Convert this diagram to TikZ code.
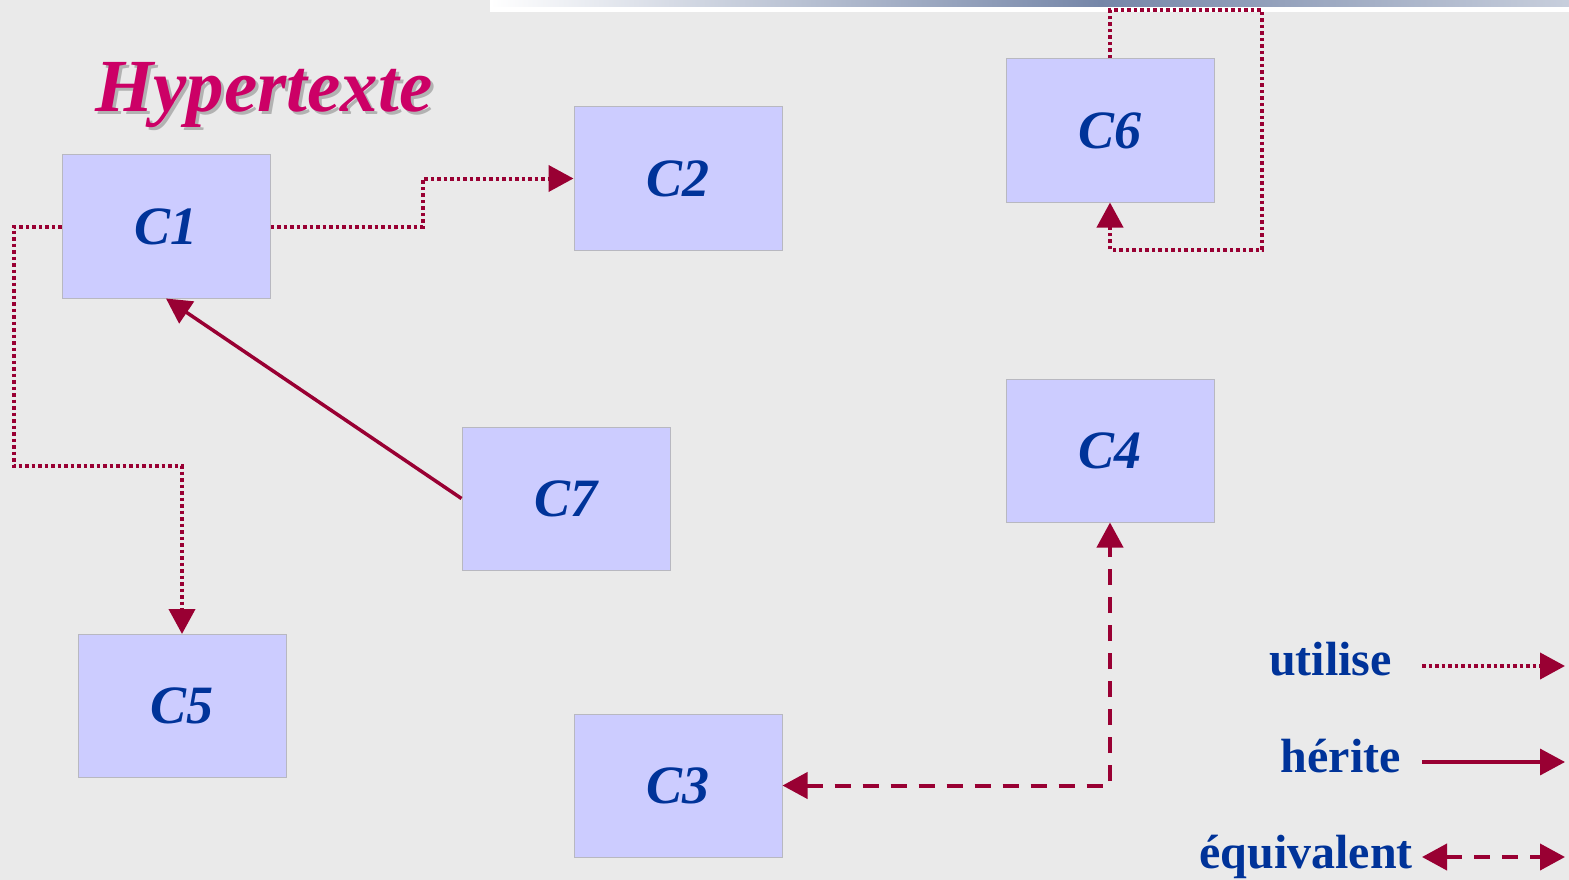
\documentclass[tikz,border=0pt]{standalone}
\usepackage{fontspec}
\setmainfont{Liberation Serif}
\usetikzlibrary{arrows.meta}

\definecolor{bgGray}{HTML}{EAEAEA}
\definecolor{boxFill}{HTML}{CCCCFF}
\definecolor{boxLine}{HTML}{B8B8C0}
\definecolor{textBlue}{HTML}{003399}
\definecolor{arrowRed}{HTML}{990033}
\definecolor{titlePink}{HTML}{CC0066}
\definecolor{barBlue}{HTML}{7586A8}

\begin{document}
\begin{tikzpicture}[
        x=1pt, y=-1pt,
        classBox/.style={
          rectangle,
          draw=boxLine,
          line width=1pt,
          fill=boxFill,
          minimum width=208pt,
          minimum height=143pt,
          inner sep=0pt,
          text=textBlue,
          font=\fontsize{54}{58}\selectfont\bfseries\itshape
        },
        titleText/.style={
          inner sep=0pt,
          anchor=base west,
          font=\fontsize{75}{78}\selectfont\bfseries\itshape
        },
        legendText/.style={
          text=textBlue,
          inner sep=0pt,
          anchor=base east,
          font=\fontsize{48}{50}\selectfont\bfseries
        },
        uses/.style={-{Triangle[length=25pt, width=26pt]}, arrowRed, line width=4pt, dash pattern=on 3.5pt off 3pt},
        inherits/.style={-{Triangle[length=25pt, width=26pt]}, arrowRed, line width=3.5pt},
        equiv/.style={{Triangle[length=25pt, width=26pt]}-{Triangle[length=25pt, width=26pt]}, arrowRed, line width=4pt, dash pattern=on 16pt off 12pt}
    ]

    % Background and top bar
    \fill[bgGray] (0,0) rectangle (1569,880);
    \useasboundingbox (0,0) rectangle (1569,880);
    \fill[white] (490,0) rectangle (1569,12);
    \shade[left color=white, right color=barBlue] (490,0) rectangle (1100,7);
    \shade[left color=barBlue, right color=barBlue!40] (1100,0) rectangle (1569,7);

    % Title
    \node[titleText, text=black!30] (titleShadow) at (98,115) {Hypertexte};
    \node[titleText, text=titlePink] (title) at (95,112) {Hypertexte};

    % Define the nodes
    \node[classBox] (c1) at (166,226.5) {C1};
    \node[classBox] (c2) at (678,178.5) {C2};
    \node[classBox] (c6) at (1110,130.5) {C6};
    \node[classBox] (c7) at (566,498.5) {C7};
    \node[classBox] (c4) at (1110,450.5) {C4};
    \node[classBox] (c5) at (182,706) {C5};
    \node[classBox] (c3) at (678,785.5) {C3};

    % Connect the nodes
    \draw[uses] (c1.east) -- ++(152,0) |- (c2.west);
    \draw[uses] (c1.west) -- ++(-48,0) -- ++(0,239.5) -| (c5.north);
    \draw[uses] (c6.north) -- ++(0,-48) -- ++(152,0) -- ++(0,239) -| (c6.south);
    \draw[inherits] (c7.west) -- (c1.south);
    \draw[equiv] (c3.east) -| (c4.south);

    % Legend
    \node[legendText] (useLbl) at (1392,675) {utilise};
    \node[legendText] (inheritLbl) at (1401,772) {hérite};
    \node[legendText] (equivLbl) at (1413,868) {équivalent};
    \coordinate (useFrom) at (1422,666);
    \coordinate (useTo) at (1565,666);
    \coordinate (inheritFrom) at (1422,762);
    \coordinate (inheritTo) at (1565,762);
    \coordinate (equivFrom) at (1422,857);
    \coordinate (equivTo) at (1565,857);
    \draw[uses] (useFrom) -- (useTo);
    \draw[inherits] (inheritFrom) -- (inheritTo);
    \draw[equiv] (equivFrom) -- (equivTo);

\end{tikzpicture}
\end{document}
